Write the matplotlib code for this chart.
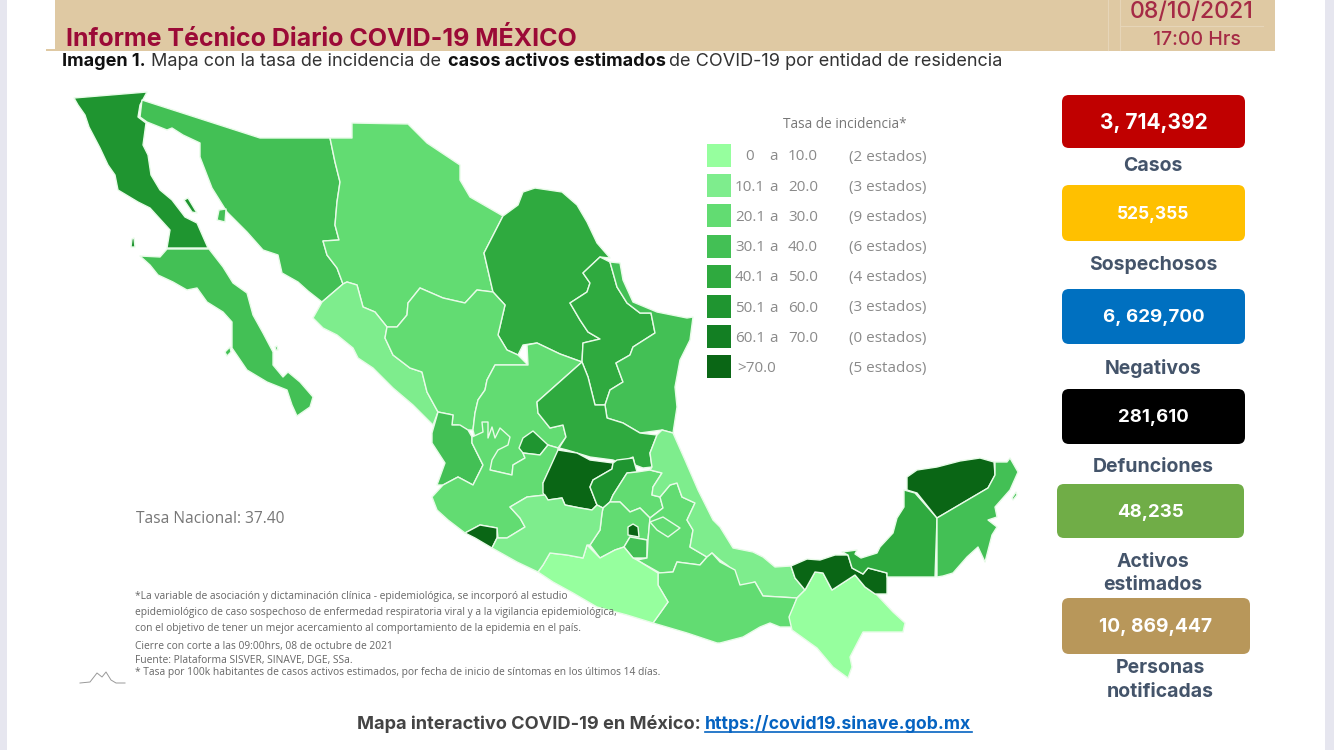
import matplotlib
matplotlib.use("Agg")
import matplotlib.pyplot as plt
from matplotlib.patches import Polygon, Rectangle, FancyBboxPatch

plt.rcParams['font.family'] = ['Inter', 'DejaVu Sans']

# legend
bin_colors = ['#96ff9e', '#7eed8d', '#62dc72', '#43c055', '#2faa3f', '#1f9530', '#137f23', '#0a6615']
bin_low = ['0', '10.1', '20.1', '30.1', '40.1', '50.1', '60.1', '>70.0']
bin_high = ['10.0', '20.0', '30.0', '40.0', '50.0', '60.0', '70.0', '']
bin_counts = ['(2 estados)', '(3 estados)', '(9 estados)', '(6 estados)', '(4 estados)', '(3 estados)', '(0 estados)', '(5 estados)']

# cards
card_values = ['3, 714,392', '525,355', '6, 629,700', '281,610', '48,235', '10, 869,447']
card_sizes = [15, 12.5, 13.5, 13.4, 13.4, 13.8]
card_colors = ['#c00000', '#ffc000', '#0070c0', '#000000', '#70ad47', '#b8975a']
card_boxes = [(1062, 95, 183, 53), (1062, 185, 183, 56), (1062, 289, 183, 55), (1062, 389, 183, 55), (1057, 484, 187, 54), (1062, 598, 188, 56)]
card_labels = [('Casos', 1153, 166), ('Sospechosos', 1153, 265), ('Negativos', 1153, 369), ('Defunciones', 1153, 467),
               ('Activos', 1153, 562), ('estimados', 1153, 585), ('Personas', 1160, 668), ('notificadas', 1160, 692)]

# state outlines in pixels
baja_california = [(74,98),(147,92),(140,105),(138,117),(146,123),(143,145),(148,155),(151,175),(160,190),(172,200),(185,217),(197,223),(208,248),(167,248),(170,230),(150,208),(138,202),(118,190),(115,175),(108,165),(100,148),(89,127),(85,115),(78,105)]
angel_guarda = [(184,200),(188,198),(197,213),(192,212)]
cedros = [(132,239),(134,238),(135,247),(131,247)]
baja_sur = [(140,256),(160,257),(167,249),(209,249),(223,267),(233,283),(247,293),(253,315),(263,333),(273,352),(273,365),(283,377),(288,372),(300,382),(313,397),(310,407),(297,416),(292,405),(287,390),(267,382),(247,370),(232,348),(232,322),(223,312),(207,302),(197,288),(187,290),(173,282),(158,275),(150,265)]
sonora = [(142,100),(260,138),(330,138),(335,162),(340,182),(337,202),(335,225),(339,240),(323,241),(327,255),(337,268),(343,284),(322,302),(308,291),(298,282),(282,273),(278,255),(263,250),(247,232),(227,212),(212,188),(200,157),(200,143),(183,135),(172,128),(167,130),(147,122),(140,117)]
tiburon = [(219,210),(226,209),(225,222),(217,220)]
chihuahua = [(352,123),(408,124),(427,143),(460,165),(460,180),(470,197),(503,216),(484,253),(493,292),(477,290),(465,303),(443,298),(420,288),(408,303),(407,315),(397,327),(387,327),(375,312),(363,307),(357,285),(347,282),(343,284),(337,268),(327,255),(323,241),(339,240),(335,225),(337,202),(340,182),(335,162),(330,138),(352,138)]
coahuila = [(503,216),(518,205),(523,192),(535,188),(562,192),(577,205),(587,222),(597,243),(610,258),(600,257),(583,273),(590,283),(587,292),(570,303),(580,320),(588,332),(600,339),(583,343),(582,362),(560,354),(537,343),(523,345),(518,355),(507,350),(498,335),(505,305),(493,292),(484,253)]
nuevo_leon = [(600,257),(610,262),(617,287),(627,303),(640,313),(651,313),(655,333),(633,347),(630,355),(616,363),(623,382),(610,390),(605,405),(595,405),(588,377),(582,362),(583,343),(600,339),(588,332),(580,320),(570,303),(587,292),(590,283),(583,273)]
tamaulipas = [(610,262),(620,263),(623,280),(633,302),(657,312),(687,318),(693,317),(690,340),(680,360),(675,387),(677,407),(673,433),(662,430),(640,433),(623,423),(607,418),(605,405),(610,390),(623,382),(616,363),(630,355),(633,347),(655,333),(651,313),(640,313),(627,303),(617,287)]
sinaloa = [(343,284),(322,302),(313,318),(323,328),(337,335),(353,348),(358,358),(373,368),(393,388),(413,405),(433,425),(438,412),(427,392),(422,372),(410,368),(393,355),(385,338),(387,327),(375,312),(363,307),(357,285),(347,282)]
durango = [(420,288),(443,298),(465,303),(477,290),(493,292),(505,305),(498,335),(507,350),(518,355),(528,365),(495,365),(487,380),(485,390),(478,400),(475,413),(473,430),(468,430),(458,425),(452,425),(453,415),(438,412),(427,392),(422,372),(410,368),(393,355),(385,338),(387,327),(397,327),(407,315),(408,303)]
zacatecas = [(528,365),(527,345),(537,343),(560,354),(582,362),(537,402),(538,413),(550,428),(563,425),(566,437),(558,448),(548,445),(540,455),(523,453),(525,458),(513,465),(512,475),(490,470),(478,450),(473,430),(475,413),(478,400),(485,390),(487,380),(495,365)]
aguascalientes = [(533,431),(548,445),(540,455),(523,453),(519,448),(523,438)]
jalisco = [(472,437),(483,432),(482,422),(488,422),(488,438),(492,427),(495,438),(500,428),(510,437),(508,445),(498,450),(492,460),(490,470),(512,475),(513,465),(525,458),(523,453),(540,455),(548,445),(558,448),(558,452),(543,483),(545,495),(527,497),(510,507),(520,518),(525,527),(507,538),(498,538),(497,528),(480,525),(465,533),(448,520),(437,510),(432,497),(443,485),(458,477),(473,485),(483,465),(472,443)]
nayarit = [(438,412),(453,415),(452,425),(460,425),(468,430),(472,437),(472,443),(483,465),(473,485),(458,477),(443,485),(437,485),(445,463),(432,443),(432,433)]
colima = [(465,533),(480,525),(497,528),(497,538),(492,548),(475,538)]
san_luis = [(582,362),(588,377),(595,405),(605,405),(607,418),(623,423),(640,433),(657,435),(650,453),(652,467),(643,468),(635,465),(633,457),(620,463),(613,460),(590,457),(567,450),(559,448),(566,437),(563,425),(550,428),(538,413),(537,402)]
guanajuato = [(558,450),(577,453),(590,460),(613,463),(612,469),(593,480),(590,487),(597,505),(592,510),(580,508),(565,505),(562,498),(548,500),(543,493),(543,483)]
queretaro = [(613,463),(617,460),(633,458),(637,472),(627,473),(613,495),(610,502),(603,508),(597,505),(590,487),(593,480),(612,469)]
hidalgo = [(637,472),(650,470),(662,473),(653,487),(652,495),(660,497),(663,508),(650,518),(640,508),(630,512),(620,502),(610,502),(613,495),(627,473)]
edomex = [(603,508),(610,502),(620,502),(630,512),(640,508),(650,518),(648,540),(630,537),(624,547),(615,550),(600,558),(590,545),(600,530),(602,513)]
cdmx = [(628,535),(628,527),(633,524),(638,527),(639,537)]
morelos = [(630,537),(647,540),(647,558),(633,558),(624,547)]
tlaxcala = [(650,522),(663,517),(680,528),(668,537),(657,530)]
puebla = [(670,485),(677,483),(682,497),(695,503),(687,520),(693,530),(690,547),(707,557),(700,565),(677,562),(673,572),(660,573),(637,560),(647,558),(648,540),(650,518),(663,508),(660,497)]
veracruz = [(662,430),(673,433),(685,460),(698,490),(713,520),(720,527),(733,548),(753,552),(763,557),(775,567),(791,566),(795,578),(805,590),(797,598),(763,596),(755,582),(740,587),(733,578),(735,572),(727,565),(720,560),(712,553),(707,557),(690,547),(693,530),(687,520),(695,503),(682,497),(677,483),(670,485),(660,497),(652,495),(653,487),(662,473),(650,470),(652,467),(650,453),(657,435)]
oaxaca = [(658,573),(673,572),(677,562),(700,565),(707,557),(712,553),(720,562),(735,570),(740,585),(755,582),(763,596),(797,598),(790,617),(792,627),(780,627),(770,623),(760,627),(743,637),(720,643),(717,643),(687,633),(653,623),(668,602),(658,585)]
guerrero = [(538,572),(543,565),(550,553),(567,555),(583,558),(587,545),(600,558),(615,550),(624,547),(633,558),(637,560),(658,573),(658,585),(668,602),(653,623),(627,615),(597,607),(573,593),(553,582)]
michoacan = [(510,507),(527,497),(545,495),(548,500),(562,498),(565,505),(580,508),(592,510),(597,505),(603,508),(602,513),(600,530),(590,545),(587,545),(583,558),(567,555),(550,553),(543,565),(538,572),(517,562),(492,548),(497,538),(507,538),(525,527),(520,518)]
chiapas = [(805,590),(815,572),(823,573),(832,590),(855,575),(865,587),(877,595),(893,612),(905,623),(903,632),(863,632),(850,657),(852,667),(848,678),(833,667),(817,648),(792,630),(789,617),(797,598)]
tabasco = [(791,566),(807,559),(820,560),(835,555),(848,555),(852,568),(863,574),(868,568),(887,573),(887,594),(875,594),(865,587),(855,575),(832,590),(823,573),(815,572),(805,590),(795,578)]
campeche = [(842,552),(857,550),(855,554),(861,558),(877,553),(880,547),(893,533),(897,518),(904,507),(904,490),(915,493),(937,518),(935,577),(887,577),(887,573),(868,568),(863,574),(852,568),(848,555)]
yucatan = [(907,477),(917,470),(937,467),(960,461),(980,458),(994,462),(995,475),(988,488),(937,518),(917,493),(907,490)]
quintana_roo = [(995,462),(1007,462),(1010,458),(1018,472),(1010,490),(995,507),(997,517),(988,520),(997,527),(992,535),(985,562),(978,547),(967,557),(953,573),(943,576),(937,577),(937,518),(988,488),(995,475)]
cozumel = [(1012,498),(1016,492),(1017,495),(1013,500)]
margarita = [(225,352),(230,347),(231,352),(227,356)]
espiritu_santo = [(275,347),(277,346),(278,350),(276,350)]

# outline and its legend bin, drawn in this order
map_states = [(baja_california, 5), (angel_guarda, 5), (cedros, 5), (baja_sur, 3), (margarita, 3), (espiritu_santo, 3),
              (sonora, 3), (tiburon, 3), (chihuahua, 2),
              (coahuila, 4), (nuevo_leon, 4), (tamaulipas, 3), (sinaloa, 1), (durango, 2), (zacatecas, 2), (aguascalientes, 5),
              (nayarit, 3), (jalisco, 2), (colima, 7), (san_luis, 4), (guanajuato, 7), (queretaro, 5), (hidalgo, 2),
              (edomex, 2), (cdmx, 7), (morelos, 3), (puebla, 2), (tlaxcala, 2), (veracruz, 1), (oaxaca, 2), (guerrero, 0),
              (michoacan, 1), (chiapas, 0), (tabasco, 7), (campeche, 4), (yucatan, 7), (quintana_roo, 3), (cozumel, 3)]

notes = ['*La variable de asociación y dictaminación clínica - epidemiológica, se incorporó al estudio',
         'epidemiológico de caso sospechoso de enfermedad respiratoria viral y a la vigilancia epidemiológica,',
         'con el objetivo de tener un mejor acercamiento al comportamiento de la epidemia en el país.',
         'Cierre con corte a las 09:00hrs, 08 de octubre de 2021',
         'Fuente: Plataforma SISVER, SINAVE, DGE, SSa.',
         '* Tasa por 100k habitantes de casos activos estimados, por fecha de inicio de síntomas en los últimos 14 días.']
note_y = [597, 613, 628, 647, 660, 672]

logo_x = [80, 90, 97, 102, 106, 111, 116, 125]
logo_y = [683, 682, 673, 677, 672, 680, 683, 683]

fig = plt.figure(figsize=(13.34, 7.5), dpi=100)
ax = fig.add_axes([0, 0, 1, 1])
ax.set_xlim(0, 1334)
ax.set_ylim(750, 0)
ax.axis('off')

# page edges and header band
ax.add_patch(Rectangle((0, 0), 7, 750, color='#e6e6ef', lw=0))
ax.add_patch(Rectangle((1325, 0), 9, 750, color='#e6e6ef', lw=0))
ax.add_patch(Rectangle((55, 0), 1220, 50.5, color='#dfc9a3', lw=0))
ax.add_patch(Rectangle((46, 48.5), 9, 2, color='#dfc9a3', lw=0))
ax.plot([1108, 1108], [0, 50], color='#e6d5b8', lw=0.8)
ax.plot([1120, 1120], [0, 50], color='#e6d5b8', lw=0.8)
ax.plot([1120, 1263], [26, 26], color='#e6d5b8', lw=0.8)
ax.text(66, 39, 'Informe Técnico Diario COVID-19 MÉXICO', fontsize=18, fontweight='bold', color='#9b0a37', va='center')
ax.text(1192, 12, '08/10/2021', fontsize=16.6, fontweight='medium', color='#a52a45', va='center', ha='center')
ax.text(1197, 40, '17:00 Hrs', fontsize=14, fontweight='medium', color='#a52a45', va='center', ha='center')

# subtitle
ax.text(62, 62, 'Imagen 1.', fontsize=13, fontweight='bold', color='#111111', va='center')
ax.text(151, 62, 'Mapa con la tasa de incidencia de', fontsize=13, color='#333333', va='center')
ax.text(448, 62, 'casos activos estimados', fontsize=13, fontweight='bold', color='#111111', va='center')
ax.text(669, 62, 'de COVID-19 por entidad de residencia', fontsize=13, color='#333333', va='center')

# map
for outline, b in map_states:
    ax.add_patch(Polygon(outline, closed=True, facecolor=bin_colors[b], edgecolor='#e8fbe8', lw=1.0, joinstyle='round'))

# legend
light = '#8a8a8a'
ax.text(845, 124.5, 'Tasa de incidencia*', fontsize=9.8, family='Open Sans', color='#777777', va='center', ha='center')
for i in range(8):
    y = 144 + i * 30.2
    ax.add_patch(Rectangle((707, y), 24, 23, facecolor=bin_colors[i], lw=0))
    yc = y + 13
    if i == 0:
        ax.text(750, yc, '0', fontsize=11, family='Open Sans', color=light, va='center', ha='center')
    elif i < 7:
        ax.text(765, yc, bin_low[i], fontsize=11, family='Open Sans', color=light, va='center', ha='right')
    else:
        ax.text(737, yc, bin_low[i], fontsize=11, family='Open Sans', color=light, va='center', ha='left')
    if i < 7:
        ax.text(773, yc, 'a', fontsize=11, family='Open Sans', color=light, va='center', ha='center')
        ax.text(788, yc, bin_high[i], fontsize=11, family='Open Sans', color=light, va='center', ha='left')
    ax.text(849, yc, bin_counts[i], fontsize=11, family='Open Sans', color=light, va='center', ha='left')

# notes
ax.text(136, 519, 'Tasa Nacional: 37.40', fontsize=11.2, family='Open Sans', color='#777777', va='center')
for s, y in zip(notes, note_y):
    ax.text(135, y, s, fontsize=7.35, family='Open Sans', color='#666666', va='center')
ax.plot(logo_x, logo_y, color='#999999', lw=0.7)

# cards
for (x, y, w, h), c, v, fs in zip(card_boxes, card_colors, card_values, card_sizes):
    ax.add_patch(FancyBboxPatch((x + 7, y + 7), w - 14, h - 14, boxstyle='round,pad=7,rounding_size=7', facecolor=c, lw=0))
    ax.text(x + w / 2, y + h / 2 + 1.5, v, fontsize=fs, fontweight='bold', color='white', va='center', ha='center')
for s, x, y in card_labels:
    ax.text(x, y, s, fontsize=14, fontweight='bold', color='#44546a', va='center', ha='center')

# footer
ax.text(357, 724, 'Mapa interactivo COVID-19 en México:', fontsize=13.1, fontweight='bold', color='#444444', va='center')
ax.text(705, 724, 'https://covid19.sinave.gob.mx', fontsize=12.7, fontweight='bold', color='#0563c1', va='center')
ax.plot([705, 972], [732, 732], color='#0563c1', lw=1.2)

fig.savefig('out.png', dpi=100)
